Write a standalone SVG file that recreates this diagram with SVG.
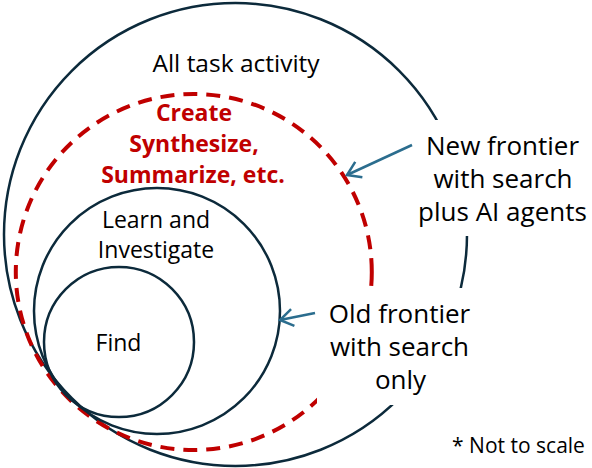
<svg xmlns="http://www.w3.org/2000/svg" width="592" height="468" viewBox="0 0 592 468">
  <style>
    .ring { fill: none; stroke: #0c2a3b; stroke-width: 2.5; }
    .dash { fill: none; stroke: #c00000; stroke-width: 4; stroke-dasharray: 14 9; }
    .lbl { font-family: "Open Sans", "Noto Sans", sans-serif; fill: #000; text-anchor: middle; }
    .red { font-family: "Open Sans", "Noto Sans", sans-serif; fill: #c00000; font-weight: bold; text-anchor: middle; font-size: 23px; }
    .mask { fill: #fff; stroke: none; }
    .arrow { fill: none; stroke: #2b6d8e; stroke-width: 2.5; marker-end: url(#chev); }
  </style>
  <defs>
    <marker id="chev" viewBox="-15 -11 17 22" refX="0" refY="0" markerWidth="17" markerHeight="22" markerUnits="userSpaceOnUse" orient="auto">
      <path d="M-13,-8.5 L0,0 L-13,8.5" fill="none" stroke="#2b6d8e" stroke-width="2.5" stroke-linejoin="miter"/>
    </marker>
  </defs>
  <rect width="592" height="468" fill="#fff"/>

  <g id="all-task-activity">
    <circle class="ring" cx="235.5" cy="234.5" r="231.5"/>
    <text class="lbl" x="236" y="72" font-size="24.5">All task activity</text>
  </g>

  <g id="new-frontier">
    <circle class="dash" cx="193.8" cy="272" r="178"/>
    <text class="red" x="194" y="121">Create</text>
    <text class="red" x="194" y="152">Synthesize,</text>
    <text class="red" x="193" y="183">Summarize, etc.</text>
  </g>

  <g id="learn-investigate">
    <circle class="ring" cx="157" cy="311" r="123"/>
    <text class="lbl" x="156" y="228" font-size="23">Learn and</text>
    <text class="lbl" x="156" y="258" font-size="23">Investigate</text>
  </g>

  <g id="find">
    <circle class="ring" cx="119" cy="342" r="75"/>
    <text class="lbl" x="118.5" y="351" font-size="23">Find</text>
  </g>

  <g id="label-new-frontier">
    <rect class="mask" x="420" y="120" width="172" height="116"/>
    <text class="lbl" x="502.5" y="155" font-size="26">New frontier</text>
    <text class="lbl" x="503" y="188" font-size="26">with search</text>
    <text class="lbl" x="502.5" y="221" font-size="26">plus AI agents</text>
  </g>

  <g id="label-old-frontier">
    <rect class="mask" x="317" y="288" width="170" height="117"/>
    <text class="lbl" x="399.5" y="323" font-size="26">Old frontier</text>
    <text class="lbl" x="399.5" y="356" font-size="26">with search</text>
    <text class="lbl" x="400.5" y="389" font-size="26">only</text>
  </g>

  <g id="note">
    <text class="lbl" x="518.5" y="453" font-size="21">* Not to scale</text>
  </g>

  <g id="connectors">
    <line class="arrow" x1="412" y1="145" x2="347" y2="175"/>
    <line class="arrow" x1="315" y1="313" x2="280" y2="320"/>
  </g>
</svg>
